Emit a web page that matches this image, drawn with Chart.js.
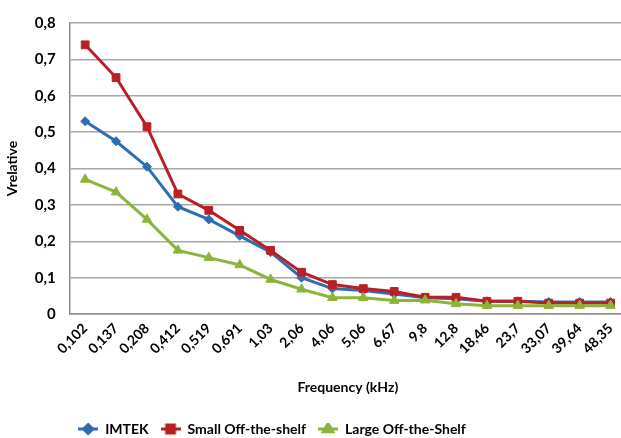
<!DOCTYPE html>
<html>
<head>
<meta charset="utf-8">
<script src="https://cdn.jsdelivr.net/npm/chart.js@4.4.1/dist/chart.umd.min.js"></script>
<style>
  html, body { margin: 0; padding: 0; background: #fff; overflow: hidden; }
  #wrap { width: 621px; height: 438px; overflow: hidden; }
</style>
</head>
<body>
<div id="wrap"><canvas id="chart" width="640" height="438"></canvas></div>
<script>
const frequencies = ['0,102', '0,137', '0,208', '0,412', '0,519', '0,691', '1,03', '2,06', '4,06',
    '5,06', '6,67', '9,8', '12,8', '18,46', '23,7', '33,07', '39,64', '48,35'];
const imtek = [0.53, 0.475, 0.405, 0.295, 0.26, 0.215, 0.17, 0.1, 0.07, 0.065, 0.055, 0.045, 0.042, 0.035, 0.035, 0.033, 0.033, 0.033];
const smallShelf = [0.74, 0.65, 0.515, 0.33, 0.285, 0.23, 0.175, 0.115, 0.081, 0.07, 0.062, 0.046, 0.046, 0.035, 0.035, 0.03, 0.03, 0.03];
const largeShelf = [0.37, 0.335, 0.26, 0.175, 0.155, 0.135, 0.095, 0.068, 0.045, 0.045, 0.037, 0.038, 0.028, 0.023, 0.023, 0.023, 0.023, 0.023];
const yTicks = [0, 0.1, 0.2, 0.3, 0.4, 0.5, 0.6, 0.7, 0.8];

const FONT = 'Lato, "Open Sans", sans-serif';
const BLUE = '#2E6DB4', RED = '#B82025', GREEN = '#8CB43A';

// little line+marker swatch for the legend, like Excel does
function swatch(color, style, r) {
    const c = document.createElement('canvas');
    c.width = 20; c.height = 12;
    const ctx = c.getContext('2d');
    ctx.strokeStyle = color; ctx.fillStyle = color; ctx.lineWidth = 3;
    ctx.beginPath(); ctx.moveTo(0, 6); ctx.lineTo(20, 6); ctx.stroke();
    Chart.helpers.drawPoint(ctx, { pointStyle: style, radius: r, borderWidth: 1 }, 10, 6);
    ctx.fill();
    return c;
}

const makeSet = (label, data, color, style, radius, order) => ({
    label, data, order,
    borderColor: color, backgroundColor: color,
    borderWidth: 3, tension: 0,
    pointStyle: style, pointRadius: radius, pointHoverRadius: radius,
    pointBackgroundColor: color, pointBorderColor: color, pointBorderWidth: 1
});

// nudge the legend to where Excel put it
const legendShift = {
    id: 'legendShift',
    afterLayout(chart) {
        const lg = chart.legend;
        lg.left -= 42; lg.right -= 42;
        lg.top += 8; lg.bottom += 8;
    }
};

new Chart(document.getElementById('chart'), {
    type: 'line',
    data: {
        labels: frequencies,
        datasets: [
            makeSet('IMTEK', imtek, BLUE, 'rectRot', 4.5, 3),
            makeSet('Small Off-the-shelf', smallShelf, RED, 'rect', 5.5, 2),
            makeSet('Large Off-the-Shelf', largeShelf, GREEN, 'triangle', 5.5, 1)
        ]
    },
    plugins: [legendShift],
    options: {
        responsive: false,
        animation: false,
        devicePixelRatio: 1,
        layout: { padding: { left: 2, right: 14, top: 3, bottom: 0 } },
        plugins: {
            tooltip: { enabled: false },
            legend: {
                position: 'bottom',
                labels: {
                    usePointStyle: true,
                    pointStyleWidth: 20,
                    padding: 12,
                    color: '#000',
                    font: { family: FONT, size: 14, weight: 'bold' },
                    generateLabels(chart) {
                        const styles = [[BLUE, 'rectRot', 4.5], [RED, 'rect', 5.5], [GREEN, 'triangle', 5.5]];
                        return chart.data.datasets.map((ds, i) => ({
                            text: ds.label,
                            datasetIndex: i,
                            pointStyle: swatch(...styles[i]),
                            fillStyle: ds.borderColor,
                            strokeStyle: ds.borderColor,
                            lineWidth: 0,
                            fontColor: '#000'
                        }));
                    }
                }
            }
        },
        scales: {
            x: {
                offset: true,
                grid: { display: false, drawTicks: false },
                border: { display: true, color: '#8c8c8c', width: 1.5 },
                ticks: {
                    minRotation: 45, maxRotation: 45, autoSkip: false, padding: 6,
                    color: '#000',
                    font: { family: FONT, size: 14, weight: 'bold' }
                },
                title: {
                    display: true, text: 'Frequency (kHz)', color: '#000',
                    font: { family: FONT, size: 14, weight: 'bold' },
                    padding: { top: 16, bottom: 6 }
                }
            },
            y: {
                min: 0, max: 0.8,
                afterBuildTicks(axis) { axis.ticks = yTicks.map(v => ({ value: v })); },
                grid: { color: '#a6a6a6', lineWidth: 1.5, drawTicks: false },
                border: { display: true, color: '#8c8c8c', width: 1.5 },
                ticks: {
                    padding: 14, color: '#000',
                    font: { family: FONT, size: 15, weight: 'bold' },
                    callback: v => v === 0 ? '0' : v.toFixed(1).replace('.', ',')
                },
                title: {
                    display: true, text: 'Vrelative', color: '#000',
                    font: { family: FONT, size: 14, weight: 'bold' },
                    padding: { top: 2, bottom: 0 }
                }
            }
        }
    }
});
</script>
</body>
</html>
